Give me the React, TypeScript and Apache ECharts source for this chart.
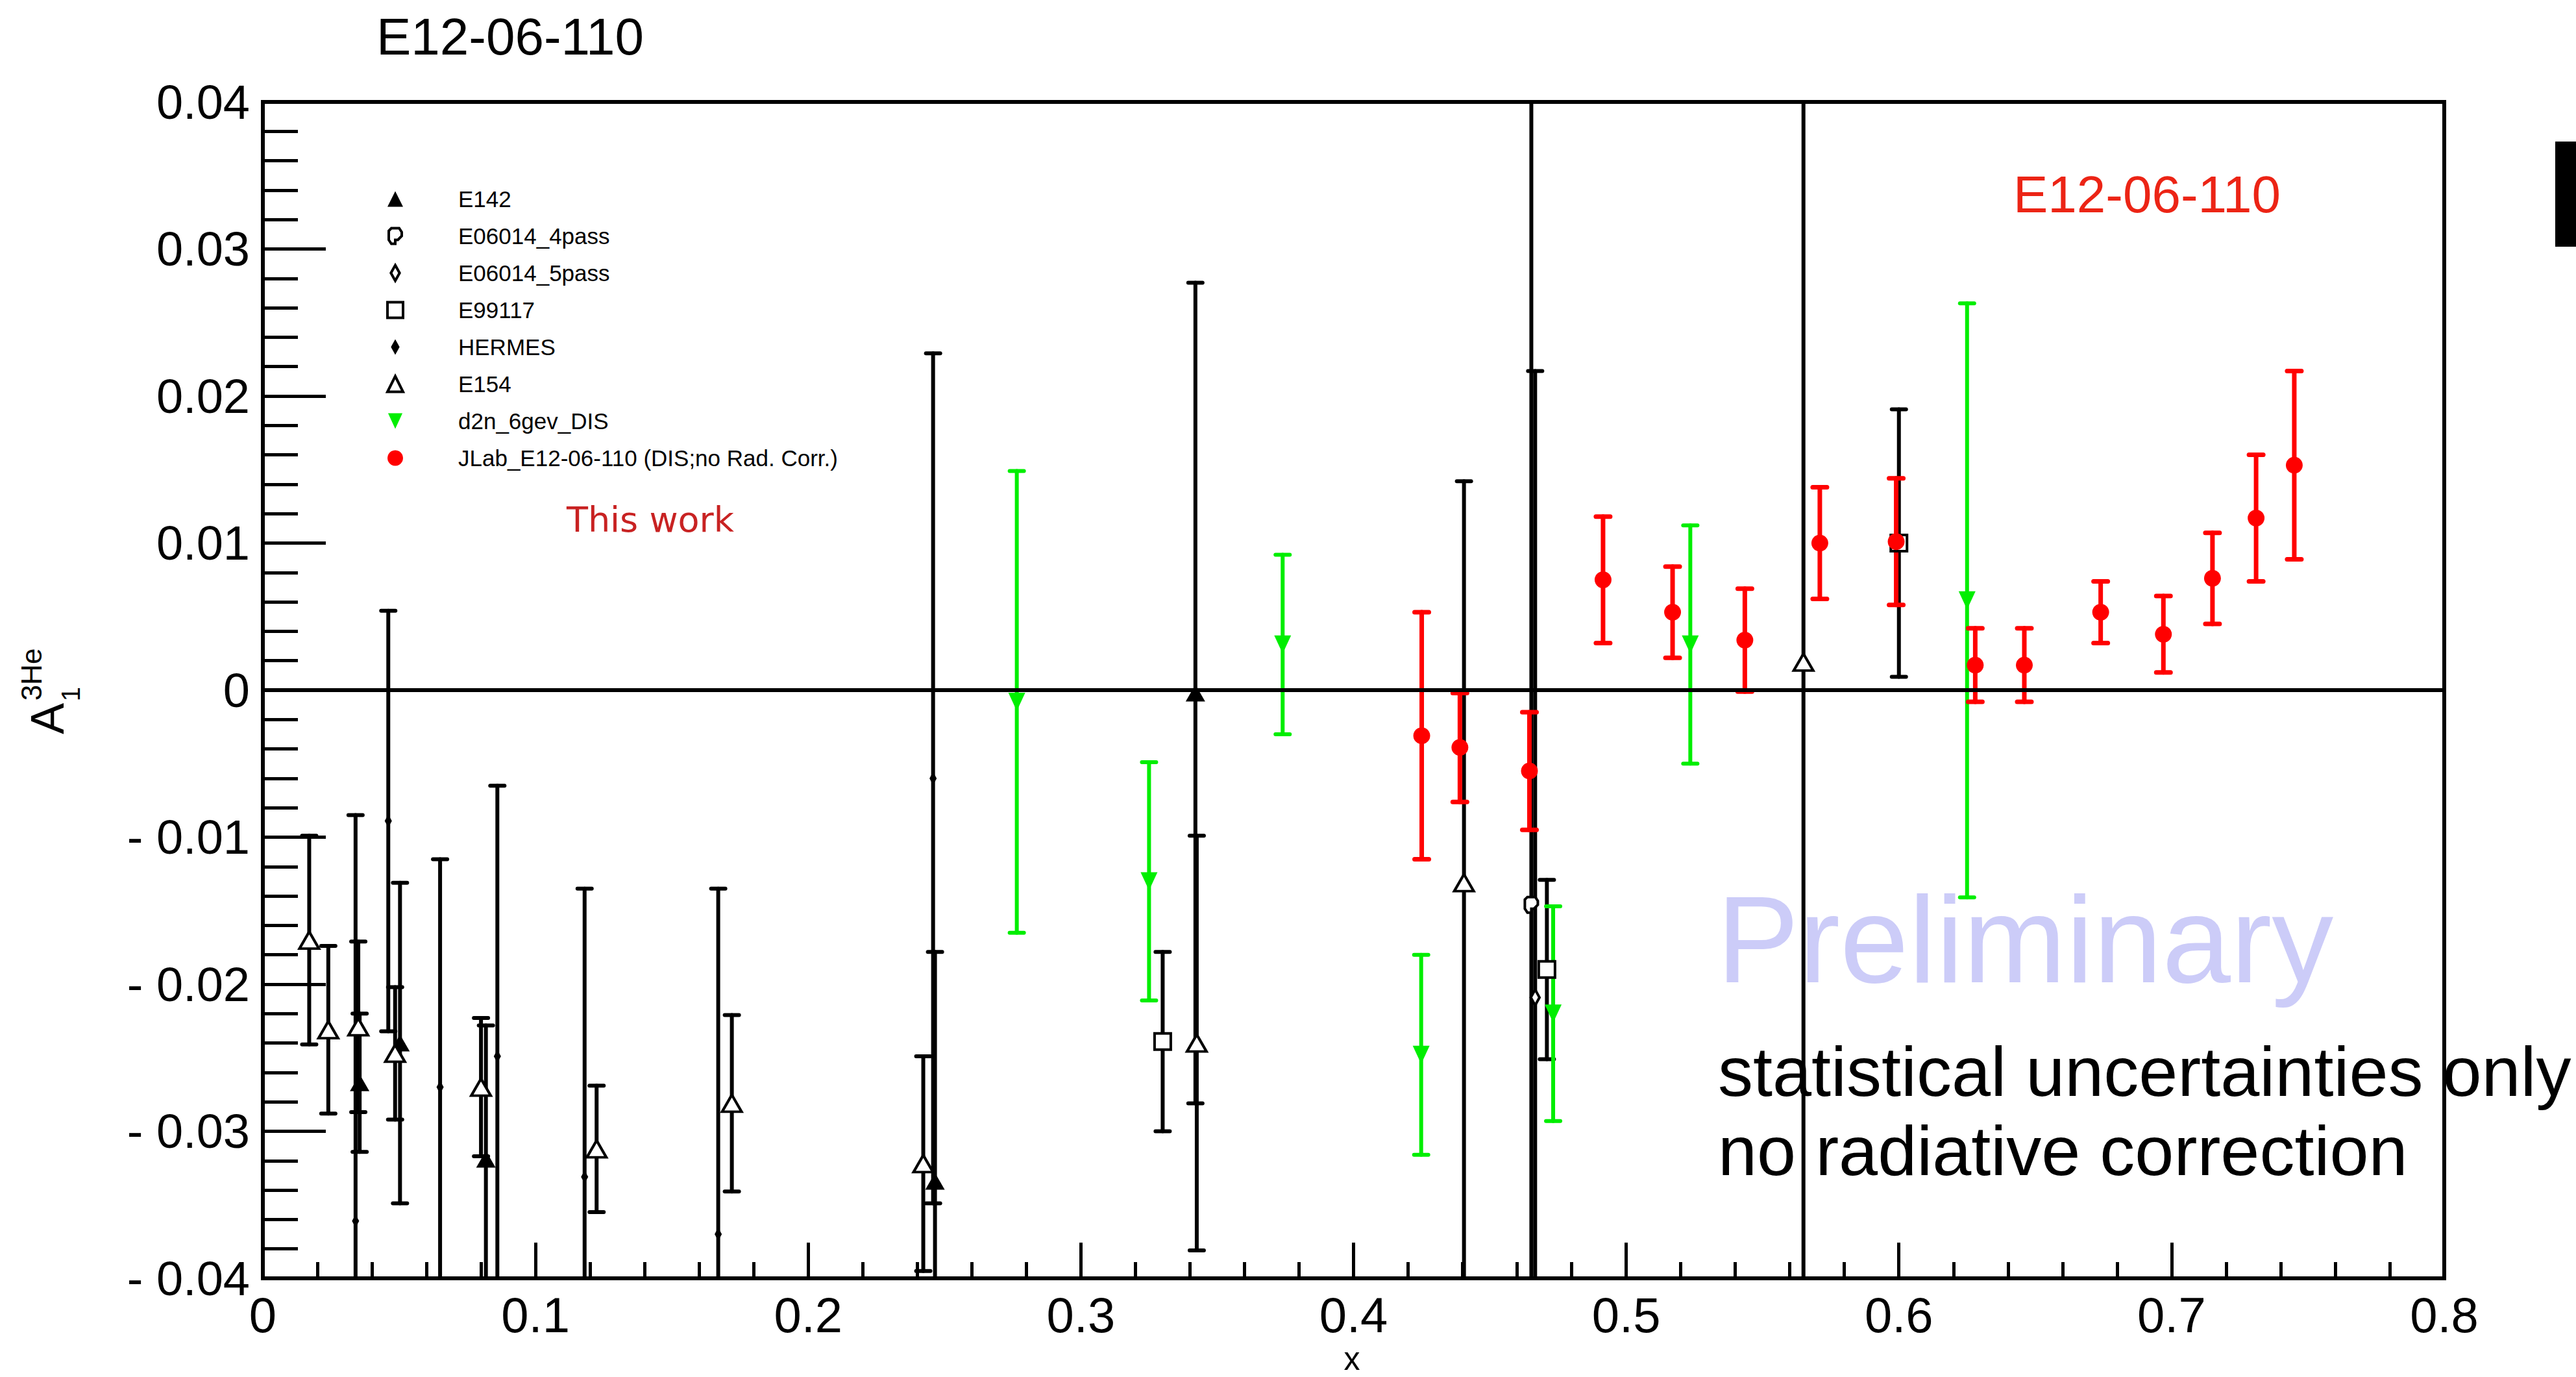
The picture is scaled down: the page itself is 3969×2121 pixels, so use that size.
import React, { useEffect, useRef } from "react";
import * as echarts from "echarts";

// ---------- data (x, A1, statistical error) ----------
const E142_X = [0.0355, 0.0503, 0.0818, 0.2465, 0.342];
const E142_Y = [-0.0267, -0.024, -0.0319, -0.0334, -0.0002];
const E142_ERR = [0.0047, 0.0109, 0.0091, 0.0156, 0.0279];

const E06014_4PASS_X = [0.4652];
const E06014_4PASS_Y = [-0.0146];
const E06014_4PASS_ERR = [0.06];

const E06014_5PASS_X = [0.4666];
const E06014_5PASS_Y = [-0.0209];
const E06014_5PASS_ERR = [0.0426];

const E99117_X = [0.33, 0.4709, 0.6];
const E99117_Y = [-0.0239, -0.019, 0.01];
const E99117_ERR = [0.0061, 0.0061, 0.0091];

const HERMES_X = [0.034, 0.046, 0.065, 0.086, 0.118, 0.167, 0.2458];
const HERMES_Y = [-0.0361, -0.0089, -0.027, -0.0249, -0.0331, -0.037, -0.006];
const HERMES_ERR = [0.0276, 0.0143, 0.0155, 0.0184, 0.0196, 0.0235, 0.0289];

const E154_X = [0.017, 0.024, 0.035, 0.0485, 0.08, 0.1224, 0.172, 0.2422, 0.3425, 0.4405, 0.565];
const E154_Y = [-0.017, -0.0231, -0.0229, -0.0247, -0.027, -0.0312, -0.0281, -0.0322, -0.024, -0.0131, 0.0019];
const E154_ERR = [0.0071, 0.0057, 0.0058, 0.0045, 0.0047, 0.0043, 0.006, 0.0073, 0.0141, 0.0273, 0.05];

const D2N_X = [0.2765, 0.325, 0.374, 0.4248, 0.4732, 0.5235, 0.625];
const D2N_Y = [-0.0008, -0.013, 0.0031, -0.0248, -0.022, 0.0031, 0.0061];
const D2N_ERR = [0.0157, 0.0081, 0.0061, 0.0068, 0.0073, 0.0081, 0.0202];

const JLAB_X = [0.425, 0.439, 0.4645, 0.4915, 0.517, 0.5435, 0.571, 0.599, 0.628, 0.646, 0.674, 0.697, 0.715, 0.731, 0.745];
const JLAB_Y = [-0.0031, -0.0039, -0.0055, 0.0075, 0.0053, 0.0034, 0.01, 0.0101, 0.0017, 0.0017, 0.0053, 0.0038, 0.0076, 0.0117, 0.0153];
const JLAB_ERR = [0.0084, 0.0037, 0.004, 0.0043, 0.0031, 0.0035, 0.0038, 0.0043, 0.0025, 0.0025, 0.0021, 0.0026, 0.0031, 0.0043, 0.0064];

const X_MIN = 0, X_MAX = 0.8, X_STEP = 0.1;
const Y_MIN = -0.04, Y_MAX = 0.04, Y_STEP = 0.01;

const FONT = "Liberation Sans";
const DIAMOND_NARROW = "path://M0,0M18,18M9,0L14,9L9,18L4,9Z";
const ODD_SHAPE = "path://M0,0M12,12M3,0L9,0L11,3L11,6L8,9L6,9L6,12L3,12L1,9L1,2Z";
const TRIANGLE_DOWN = "path://M0,0L12,0L6,13Z";

type Def = {
  name: string; xs: number[]; ys: number[]; es: number[];
  bar: string; lw: number; symbol: string; size: number | number[]; fill: string;
  border: number;
};

const DEFS: Def[] = [
  { name: "E142", xs: E142_X, ys: E142_Y, es: E142_ERR, bar: "#000", lw: 6, symbol: "triangle", size: [30, 26], fill: "#000", border: 0 },
  { name: "E06014_4pass", xs: E06014_4PASS_X, ys: E06014_4PASS_Y, es: E06014_4PASS_ERR, bar: "#000", lw: 6, symbol: ODD_SHAPE, size: 24, fill: "#fff", border: 4 },
  { name: "E06014_5pass", xs: E06014_5PASS_X, ys: E06014_5PASS_Y, es: E06014_5PASS_ERR, bar: "#000", lw: 6, symbol: DIAMOND_NARROW, size: 24, fill: "#fff", border: 4 },
  { name: "E99117", xs: E99117_X, ys: E99117_Y, es: E99117_ERR, bar: "#000", lw: 6, symbol: "rect", size: 25, fill: "#fff", border: 4 },
  { name: "HERMES", xs: HERMES_X, ys: HERMES_Y, es: HERMES_ERR, bar: "#000", lw: 6, symbol: DIAMOND_NARROW, size: 20, fill: "#000", border: 0 },
  { name: "E154", xs: E154_X, ys: E154_Y, es: E154_ERR, bar: "#000", lw: 6, symbol: "triangle", size: [30, 26], fill: "#fff", border: 4 },
  { name: "d2n_6gev_DIS", xs: D2N_X, ys: D2N_Y, es: D2N_ERR, bar: "#00ee00", lw: 6, symbol: TRIANGLE_DOWN, size: [26, 28], fill: "#00ee00", border: 0 },
  { name: "JLab_E12-06-110 (DIS;no Rad. Corr.)", xs: JLAB_X, ys: JLAB_Y, es: JLAB_ERR, bar: "#ff0000", lw: 7, symbol: "circle", size: 26, fill: "#ff0000", border: 0 },
];

function errorSeries(d: Def): any {
  return {
    type: "custom",
    name: d.name + " err",
    z: 2,
    data: d.xs.map((x, i) => [x, d.ys[i], d.es[i]]),
    encode: { x: 0, y: 1 },
    renderItem: (params: any, api: any) => {
      const x = api.value(0), y = api.value(1), e = api.value(2);
      const p1 = api.coord([x, y + e]);
      const p2 = api.coord([x, y - e]);
      const cs = params.coordSys;
      const top = cs.y, bot = cs.y + cs.height;
      const capTop = p1[1] >= top;
      const capBot = p2[1] <= bot;
      const y1 = Math.max(p1[1], top);
      const y2 = Math.min(p2[1], bot);
      const st = { stroke: d.bar, lineWidth: d.lw, lineCap: "round" };
      const hw = 11;
      const children: any[] = [];
      if (y2 > y1) children.push({ type: "line", shape: { x1: p1[0], y1, x2: p1[0], y2 }, style: st });
      if (capTop && p1[1] <= bot) children.push({ type: "line", shape: { x1: p1[0] - hw, y1: p1[1], x2: p1[0] + hw, y2: p1[1] }, style: st });
      if (capBot && p2[1] >= top) children.push({ type: "line", shape: { x1: p2[0] - hw, y1: p2[1], x2: p2[0] + hw, y2: p2[1] }, style: st });
      return { type: "group", children };
    },
  };
}

function markerSeries(d: Def, withZero: boolean): any {
  const s: any = {
    type: "scatter",
    name: d.name,
    z: 3,
    symbol: d.symbol,
    symbolSize: d.size,
    data: d.xs.map((x, i) => [x, d.ys[i]]),
    itemStyle: { color: d.fill, borderColor: "#000", borderWidth: d.border, opacity: 1 },
  };
  if (withZero) {
    s.markLine = {
      silent: true,
      symbol: "none",
      label: { show: false },
      lineStyle: { color: "#000", width: 6, type: "solid" },
      data: [{ yAxis: 0 }],
    };
  }
  return s;
}

export default function App() {
  const ref = useRef<HTMLDivElement>(null);
  useEffect(() => {
    if (!ref.current) return;
    const chart = echarts.init(ref.current, null, { renderer: "svg" });
    const series: any[] = [];
    DEFS.forEach((d) => series.push(errorSeries(d)));
    DEFS.forEach((d, i) => series.push(markerSeries(d, i === 0)));

    const txt = (text: string, x: number, y: number, size: number, fill: string, opts: any = {}) => ({
      type: "text",
      x, y,
      rotation: opts.rotation || 0,
      z: 10,
      style: {
        text, fill,
        fontSize: size,
        fontFamily: opts.family || FONT,
        align: opts.align || "center",
        textAlign: opts.align || "center",
        verticalAlign: "middle",
        textVerticalAlign: "middle",
      },
    });

    chart.setOption({
      animation: false,
      backgroundColor: "#fff",
      grid: { left: 405, top: 157, width: 3361, height: 1812, show: true, borderColor: "#000", borderWidth: 6, backgroundColor: "transparent" },
      xAxis: {
        type: "value", min: X_MIN, max: X_MAX, interval: X_STEP,
        axisLine: { show: true, onZero: false, lineStyle: { color: "#000", width: 6 } },
        axisTick: { show: true, inside: true, length: 55, lineStyle: { color: "#000", width: 5 } },
        minorTick: { show: true, splitNumber: 5, length: 25, lineStyle: { color: "#000", width: 5 } },
        splitLine: { show: false },
        minorSplitLine: { show: false },
        axisLabel: {
          fontSize: 76, color: "#000", fontFamily: FONT, margin: 18,
          formatter: (v: number) => { const r = Math.round(v * 10) / 10; return r === 0 ? "0" : r.toFixed(1); },
        },
      },
      yAxis: {
        type: "value", min: Y_MIN, max: Y_MAX, interval: Y_STEP,
        axisLine: { show: true, onZero: false, lineStyle: { color: "#000", width: 6 } },
        axisTick: { show: true, inside: true, length: 97, lineStyle: { color: "#000", width: 5 } },
        minorTick: { show: true, splitNumber: 5, length: 54, lineStyle: { color: "#000", width: 5 } },
        splitLine: { show: false },
        minorSplitLine: { show: false },
        axisLabel: {
          fontSize: 74, color: "#000", fontFamily: FONT, margin: 20,
          formatter: (v: number) => {
            const r = Math.round(v * 100) / 100;
            if (r === 0) return "0";
            return r < 0 ? "- " + Math.abs(r).toFixed(2) : r.toFixed(2);
          },
        },
      },
      legend: {
        orient: "vertical",
        left: 595, top: 289,
        padding: 0,
        itemWidth: 24, itemHeight: 24, itemGap: 22,
        selectedMode: false,
        textStyle: { fontSize: 35, fontFamily: FONT, color: "#000", padding: [0, 0, 0, 80] },
        data: DEFS.map((d) => ({
          name: d.name,
          itemStyle: { color: d.fill, borderColor: "#000", borderWidth: d.border },
        })),
      },
      graphic: [
        txt("E12-06-110", 786, 56, 80, "#000"),
        txt("E12-06-110", 3308, 299, 80, "#ec2415"),
        txt("This work", 1002, 800, 54, "#c82222", { family: "DejaVu Sans" }),
        txt("Preliminary", 2645, 1447, 190, "#ccccf8", { align: "left" }),
        txt("statistical uncertainties only", 2647, 1650, 108, "#000", { align: "left" }),
        txt("no radiative correction", 2647, 1772, 108, "#000", { align: "left" }),
        txt("x", 2083, 2093, 50, "#000"),
        txt("A", 73, 1107, 72, "#000", { rotation: Math.PI / 2 }),
        txt("1", 109, 1069, 40, "#000", { rotation: Math.PI / 2 }),
        txt("3He", 48, 1039, 44, "#000", { rotation: Math.PI / 2 }),
        { type: "rect", x: 3937, y: 218, z: 10, shape: { x: 0, y: 0, width: 32, height: 162 }, style: { fill: "#000" } },
      ],
      series,
    });
    return () => chart.dispose();
  }, []);
  return <div ref={ref} style={{ position: "absolute", left: 0, top: 0, width: "3969px", height: "2121px" }} />;
}
